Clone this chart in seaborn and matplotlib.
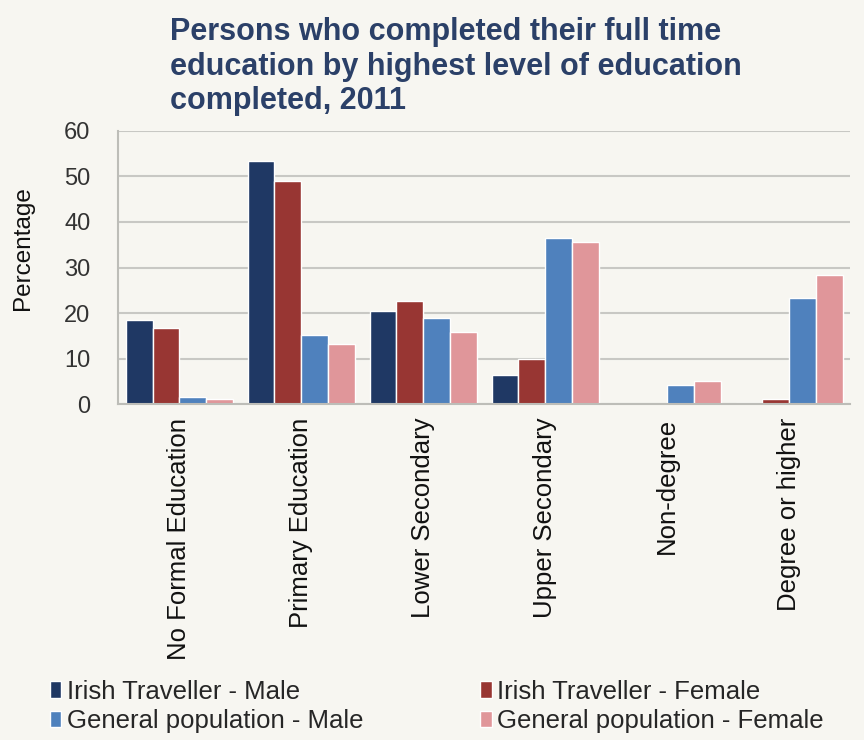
import pandas as pd
import seaborn as sns
import matplotlib.pyplot as plt

# values
categories = ["No Formal Education", "Primary Education", "Lower Secondary",
              "Upper Secondary", "Non-degree", "Degree or higher"]
series = ["Irish Traveller - Male", "Irish Traveller - Female",
          "General population - Male", "General population - Female"]
traveller_male = [18.5, 53.4, 20.5, 6.4, 0.0, 0.3]
traveller_female = [16.8, 48.9, 22.6, 9.8, 0.0, 1.0]
general_male = [1.6, 15.2, 18.8, 36.4, 4.2, 23.2]
general_female = [1.2, 13.3, 15.8, 35.5, 5.1, 28.4]
colors = ["#1f3864", "#983633", "#4f81bd", "#e0969a"]

rows = []
for name, vals in zip(series, [traveller_male, traveller_female, general_male, general_female]):
    for cat, v in zip(categories, vals):
        rows.append({"Level": cat, "Group": name, "Percentage": v})
data = pd.DataFrame(rows)

sns.set_style("white")
plt.rcParams['font.family'] = ['Liberation Sans', 'DejaVu Sans']
bg = "#f7f6f1"

fig = plt.figure(figsize=(8.64, 7.4), dpi=100, facecolor=bg)
ax = fig.add_axes([0.137, 0.454, 0.847, 0.369])
ax.set_facecolor(bg)

sns.barplot(data=data, x="Level", y="Percentage", hue="Group", hue_order=series,
            palette=colors, width=0.88, gap=0, saturation=1, ax=ax, legend=True)

ax.set_ylim(0, 60)
ax.set_yticks(range(0, 61, 10))
ax.set_xlim(-0.5, len(categories) - 0.5)
ax.grid(axis="y", color="#c8c8c4", linewidth=1.5)
ax.set_axisbelow(True)
for s in ["top", "right"]:
    ax.spines[s].set_visible(False)
for s in ["left", "bottom"]:
    ax.spines[s].set_color("#bdbdb8")
    ax.spines[s].set_linewidth(1.5)

ax.tick_params(axis="y", labelsize=17, length=0, pad=20, colors="#333333")
ax.tick_params(axis="x", labelsize=18.5, length=0, pad=10, colors="#111111")
plt.setp(ax.get_xticklabels(), rotation=90)
ax.set_xlabel("")
ax.set_ylabel("Percentage", fontsize=17.5, color="#111111")
ax.yaxis.set_label_coords(-0.115, 0.57)

fig.text(170 / 864, 1 - 17 / 740,
         "Persons who completed their full time\neducation by highest level of education\ncompleted, 2011",
         fontsize=22, fontweight="bold", color="#2b4068", ha="left", va="top",
         linespacing=1.2)

# legend filled row by row, like the reference
handles, labels = ax.get_legend_handles_labels()
order = [0, 2, 1, 3]
ax.get_legend().remove()
fig.legend([handles[i] for i in order], [labels[i] for i in order], ncol=2,
           loc="lower left", bbox_to_anchor=(0.031, -0.022),
           frameon=False, fontsize=18.5, handlelength=0.45, handleheight=0.6,
           handletextpad=0.2, columnspacing=4.55, labelspacing=0.22)

fig.savefig("out.png", dpi=100, facecolor=bg)
